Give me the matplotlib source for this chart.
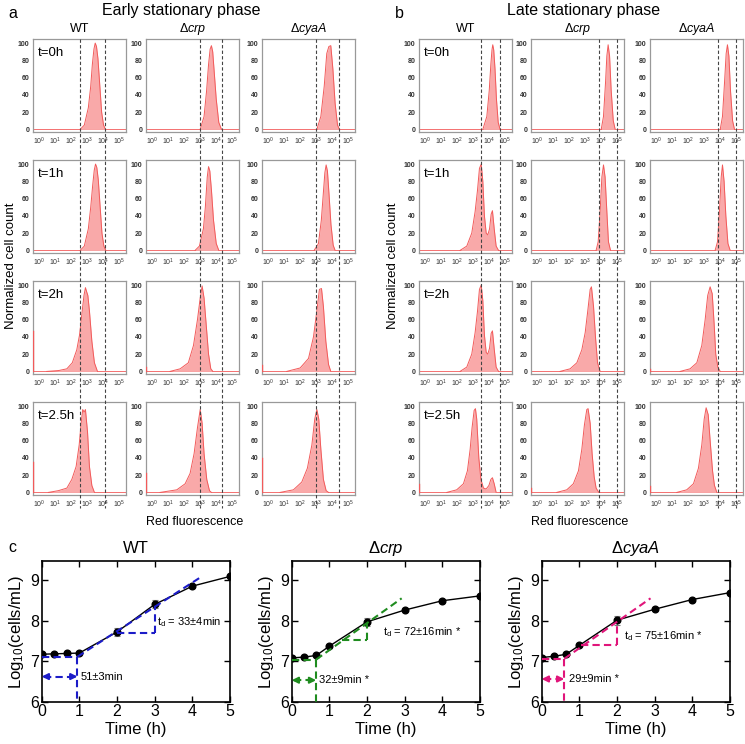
import matplotlib
matplotlib.use('Agg')
import matplotlib.pyplot as plt
from matplotlib.lines import Line2D
from matplotlib.transforms import blended_transform_factory

plt.rcParams['font.family'] = ['Liberation Sans', 'DejaVu Sans']
plt.rcParams['mathtext.fontset'] = 'custom'
plt.rcParams['mathtext.rm'] = 'Liberation Sans'
plt.rcParams['mathtext.it'] = 'Liberation Sans:italic'
plt.rcParams['mathtext.bf'] = 'Liberation Sans:bold'

# ---------------- data: histograms (x = log10 red fluorescence, y = normalized count) ----
TIMES = ['t=0h', 't=1h', 't=2h', 't=2.5h']
STRAINS = ['WT', r'$\Delta\mathit{crp}$', r'$\Delta\mathit{cyaA}$']

A_WT_X = [[2.54, 2.8, 3.05, 3.2, 3.3, 3.4, 3.48, 3.56, 3.65, 3.75, 3.88, 4.0, 4.12],
          [2.54, 2.8, 3.05, 3.2, 3.32, 3.42, 3.5, 3.58, 3.67, 3.77, 3.9, 4.02, 4.14],
          [0.46, 1.2, 1.71, 2.05, 2.33, 2.5, 2.58, 2.68, 2.78, 2.87, 2.95, 3.02, 3.12, 3.27, 3.43, 3.62],
          [0.56, 1.18, 1.71, 2.02, 2.29, 2.48, 2.6, 2.7, 2.79, 2.87, 3.0, 3.12, 3.27, 3.43]]
A_WT_Y = [[0, 5, 25, 50, 75, 93, 100, 96, 82, 55, 20, 5, 0],
          [0, 5, 25, 50, 75, 93, 100, 96, 82, 55, 20, 5, 0],
          [0, 1, 3, 10, 25, 42, 55, 72, 88, 97, 92, 88, 70, 35, 10, 0],
          [0, 2, 5, 15, 30, 55, 80, 96, 93, 96, 70, 30, 8, 0]]
A_CRP_X = [[2.98, 3.22, 3.38, 3.5, 3.6, 3.68, 3.76, 3.86, 3.98, 4.14, 4.31],
           [2.66, 2.93, 3.18, 3.3, 3.42, 3.5, 3.58, 3.68, 3.81, 3.98, 4.14],
           [1.1, 1.73, 2.24, 2.56, 2.81, 2.98, 3.1, 3.22, 3.35, 3.5, 3.64, 3.77],
           [0.48, 1.52, 2.04, 2.35, 2.6, 2.81, 2.98, 3.1, 3.22, 3.39, 3.56, 3.68]]
A_CRP_Y = [[0, 15, 45, 75, 93, 97, 90, 65, 35, 8, 0],
           [0, 5, 25, 50, 85, 97, 92, 70, 35, 8, 0],
           [0, 3, 10, 30, 60, 85, 99, 85, 55, 20, 3, 0],
           [0, 3, 10, 22, 45, 75, 96, 80, 45, 15, 2, 0]]
A_CYA_X = [[3.02, 3.27, 3.48, 3.64, 3.77, 3.89, 4.02, 4.16, 4.31, 4.43],
           [2.85, 3.12, 3.3, 3.42, 3.52, 3.6, 3.68, 3.78, 3.9, 4.04, 4.16],
           [1.14, 1.98, 2.5, 2.81, 3.02, 3.18, 3.31, 3.43, 3.58, 3.75, 3.89],
           [0.73, 1.56, 2.08, 2.43, 2.71, 2.89, 3.02, 3.14, 3.27, 3.43, 3.6, 3.75]]
A_CYA_Y = [[0, 15, 50, 88, 96, 97, 70, 30, 5, 0],
           [0, 8, 35, 65, 90, 99, 92, 65, 30, 6, 0],
           [0, 4, 15, 40, 70, 95, 96, 75, 35, 8, 0],
           [0, 3, 12, 28, 55, 85, 96, 85, 50, 15, 2, 0]]

B_WT_X = [[3.58, 3.83, 3.98, 4.08, 4.15, 4.2, 4.26, 4.34, 4.43, 4.54, 4.66],
          [2.16, 2.58, 2.89, 3.1, 3.25, 3.37, 3.48, 3.58, 3.68, 3.79, 3.89, 4.0, 4.1, 4.18, 4.29, 4.41, 4.56],
          [2.16, 2.58, 2.89, 3.1, 3.25, 3.37, 3.48, 3.58, 3.68, 3.79, 3.89, 4.0, 4.1, 4.18, 4.29, 4.41, 4.56],
          [1.33, 1.95, 2.37, 2.62, 2.79, 2.91, 3.04, 3.12, 3.2, 3.33, 3.46, 3.62, 3.79, 3.96, 4.08, 4.18, 4.29, 4.41]]
B_WT_Y = [[0, 15, 45, 75, 92, 98, 92, 70, 35, 8, 0],
          [0, 5, 20, 45, 70, 95, 100, 80, 40, 20, 18, 25, 42, 46, 25, 5, 0],
          [0, 5, 20, 45, 70, 95, 100, 82, 42, 22, 20, 27, 44, 47, 26, 5, 0],
          [0, 3, 10, 25, 50, 75, 95, 97, 85, 40, 15, 5, 4, 8, 15, 17, 10, 0]]
B_CRP_X = [[3.98, 4.12, 4.25, 4.33, 4.41, 4.5, 4.6, 4.73, 4.85],
           [3.66, 3.79, 3.91, 4.02, 4.12, 4.22, 4.33, 4.43, 4.56],
           [1.41, 2.04, 2.46, 2.77, 2.98, 3.14, 3.29, 3.37, 3.5, 3.62, 3.75, 3.91],
           [1.2, 1.83, 2.24, 2.56, 2.77, 2.93, 3.08, 3.16, 3.29, 3.41, 3.54, 3.66, 3.83]]
B_CRP_Y = [[0, 15, 55, 85, 98, 85, 45, 10, 0],
           [0, 10, 45, 85, 99, 85, 45, 10, 0],
           [0, 3, 10, 25, 45, 70, 95, 98, 75, 40, 10, 0],
           [0, 3, 10, 25, 50, 78, 96, 97, 80, 45, 18, 5, 0]]
B_CYA_X = [[3.98, 4.12, 4.25, 4.35, 4.43, 4.52, 4.62, 4.75, 4.87],
           [3.66, 3.81, 3.93, 4.04, 4.12, 4.22, 4.33, 4.46, 4.6],
           [1.48, 2.1, 2.52, 2.83, 3.04, 3.2, 3.35, 3.48, 3.6, 3.7, 3.83, 3.98],
           [1.27, 1.89, 2.31, 2.62, 2.83, 2.98, 3.1, 3.23, 3.35, 3.5, 3.62, 3.77]]
B_CYA_Y = [[0, 15, 55, 88, 98, 85, 45, 10, 0],
           [0, 10, 45, 85, 99, 80, 40, 8, 0],
           [0, 3, 10, 30, 60, 88, 98, 90, 55, 20, 5, 0],
           [0, 3, 10, 28, 55, 85, 98, 90, 60, 25, 8, 0]]

# counts piled at the lower edge of the axis
A_EDGE = [[0, 0, 47, 35], [0, 0, 5, 22], [0, 0, 8, 40]]
B_EDGE = [[0, 0, 0, 10], [0, 0, 0, 5], [0, 0, 3, 7]]
# gate positions (log10)
A_GATES = [(2.54, 4.1), (2.98, 4.35), (2.98, 4.4)]
B_GATES = [(3.46, 4.66), (3.83, 4.95), (3.83, 4.95)]

# ---------------- data: growth curves ----------------
TIME_WT = [0, 0.33, 0.67, 1, 2, 3, 4, 5]
LOG_WT = [7.17, 7.18, 7.19, 7.2, 7.72, 8.4, 8.85, 9.09]
ERR_WT = [0.02, 0.02, 0.02, 0.03, 0.1, 0.1, 0.04, 0.03]
TIME_CRP = [0, 0.33, 0.65, 1, 2, 3, 4, 5]
LOG_CRP = [7.08, 7.1, 7.14, 7.37, 7.97, 8.26, 8.49, 8.61]
ERR_CRP = [0.02, 0.02, 0.02, 0.03, 0.1, 0.03, 0.03, 0.03]
TIME_CYA = [0, 0.33, 0.65, 1, 2, 3, 4, 5]
LOG_CYA = [7.09, 7.12, 7.17, 7.39, 8.01, 8.28, 8.52, 8.69]
ERR_CYA = [0.02, 0.02, 0.02, 0.03, 0.11, 0.03, 0.03, 0.03]

# lag end (x, y), tangent end (x, y), doubling triangle (x0, x1, y0, y1), arrow y
LAG = [(0.95, 7.11), (0.65, 7.04), (0.6, 7.06)]
TANGENT_END = [(4.27, 9.1), (2.92, 8.55), (2.89, 8.55)]
TRIANGLE = [(2.0, 3.0, 7.7, 8.36), (1.33, 2.0, 7.52, 7.94), (1.05, 2.0, 7.39, 7.95)]
ARROW_Y = [6.62, 6.53, 6.56]
LAG_TEXT = ['51±3min', '32±9min *', '29±9min *']
LAG_TEXT_POS = [(1.03, 6.62), (0.72, 6.53), (0.73, 6.55)]
TD_TEXT = [r'$\mathrm{t_d}$ = 33±4min', r'$\mathrm{t_d}$ = 72±16min *', r'$\mathrm{t_d}$ = 75±16min *']
TD_TEXT_POS = [(3.07, 7.97), (2.43, 7.72), (2.19, 7.62)]
FIT_COLORS = ['#1c1cc8', '#1f8c1f', '#e0157a']

# ---------------- layout ----------------
W, H = 745, 744
fig = plt.figure(figsize=(W / 100, H / 100), dpi=100)


def box(l, t, w, h):
    return [l / W, 1 - (t + h) / H, w / W, h / H]


def ftext(x, y, s, **kw):
    fig.text(x / W, 1 - y / H, s, **kw)


ROW_TOPS = [39, 160, 281, 402]
ROW_H = 93
A_LEFTS = [33, 146, 262]
B_LEFTS = [419, 531, 650]
COL_W = 93
XMIN, XMAX = -0.4, 5.4
FILL = '#f9a9a9'
EDGE = '#f25a5a'


def hist_panel(lefts, XS, YS, EDGES, GATES):
    top_axes = []
    for c, l in enumerate(lefts):
        for r, t in enumerate(ROW_TOPS):
            ax = fig.add_axes(box(l, t, COL_W, ROW_H))
            xs, ys = XS[c][r], YS[c][r]
            ax.axhline(0, color=EDGE, lw=0.6, zorder=1)
            ax.fill_between(xs, ys, 0, color=FILL, lw=0, zorder=2)
            ax.plot(xs, ys, color=EDGE, lw=0.7, zorder=3)
            if EDGES[c][r] > 0:
                ax.plot([XMIN + 0.02, XMIN + 0.02], [0, EDGES[c][r]], color=EDGE, lw=1.0, zorder=3)
            ax.set_xlim(XMIN, XMAX)
            ax.set_ylim(-3, 104.7)
            ax.set_xticks(range(6))
            ax.set_xticklabels([r'$10^{%d}$' % k for k in range(6)])
            ax.set_yticks([0, 20, 40, 60, 80, 100])
            ax.tick_params(length=0, labelsize=5, labelcolor='#333333', pad=2.5)
            for lab in ax.get_yticklabels():
                lab.set_fontweight('bold')
            for sp in ax.spines.values():
                sp.set_color('#999999')
                sp.set_linewidth(0.9)
            if c == 0:
                ax.text(0.05, 0.85, TIMES[r], transform=ax.transAxes, fontsize=9.5,
                        va='center', ha='left')
            if r == 0:
                top_axes.append(ax)
                ax.set_title(STRAINS[c], fontsize=9, pad=5)
        # gate lines across the whole column
        tr = blended_transform_factory(top_axes[c].transData, fig.transFigure)
        for g in GATES[c]:
            fig.add_artist(Line2D([g, g], [1 - 39 / H, 1 - 508 / H], transform=tr,
                                  color='#444444', lw=0.8, ls=(0, (3, 2)), zorder=10))


hist_panel(A_LEFTS, [A_WT_X, A_CRP_X, A_CYA_X], [A_WT_Y, A_CRP_Y, A_CYA_Y], A_EDGE, A_GATES)
hist_panel(B_LEFTS, [B_WT_X, B_CRP_X, B_CYA_X], [B_WT_Y, B_CRP_Y, B_CYA_Y], B_EDGE, B_GATES)

ftext(8, 14, 'a', fontsize=11.5, va='center')
ftext(395, 14, 'b', fontsize=11.5, va='center')
ftext(8, 547, 'c', fontsize=11.5, va='center')
ftext(181, 10, 'Early stationary phase', fontsize=11.5, ha='center', va='center')
ftext(584, 10, 'Late stationary phase', fontsize=11.5, ha='center', va='center')
ftext(11, 266, 'Normalized cell count', fontsize=9.5, rotation=90, ha='center', va='center')
ftext(393, 266, 'Normalized cell count', fontsize=9.5, rotation=90, ha='center', va='center')
ftext(195, 522, 'Red fluorescence', fontsize=9, ha='center', va='center')
ftext(580, 522, 'Red fluorescence', fontsize=9, ha='center', va='center')

# ---------------- growth panels ----------------
C_LEFTS = [41.7, 291.7, 541.7]
C_TITLES = ['WT', r'$\Delta\mathit{crp}$', r'$\Delta\mathit{cyaA}$']
DATA = [(TIME_WT, LOG_WT, ERR_WT), (TIME_CRP, LOG_CRP, ERR_CRP), (TIME_CYA, LOG_CYA, ERR_CYA)]
for i, l in enumerate(C_LEFTS):
    ax = fig.add_axes(box(l, 561, 188.3, 140.7))
    t, v, e = DATA[i]
    col = FIT_COLORS[i]
    ax.errorbar(t, v, yerr=e, fmt='none', ecolor='#777777', elinewidth=0.8, capsize=2.5, capthick=0.8, zorder=2)
    ax.plot(t, v, '-o', color='black', ms=4.8, lw=1.0, zorder=3)
    lx, ly = LAG[i]
    tx, ty = TANGENT_END[i]
    x0, x1, y0, y1 = TRIANGLE[i]
    dash = (0, (3.5, 2))
    kw = dict(color=col, lw=1.5, ls=dash, zorder=4)
    ax.plot([0, lx], [ly, ly], **kw)
    ax.plot([lx, lx], [ly, 6.0], **kw)
    ax.plot([lx, tx], [ly, ty], **kw)
    ax.plot([x0, x1], [y0, y0], **kw)
    ax.plot([x1, x1], [y0, y1], **kw)
    ay = ARROW_Y[i]
    ax.plot([0.05, lx - 0.05], [ay, ay], **kw)
    for tip, tail in ((0.0, 0.2), (lx, lx - 0.2)):
        ax.annotate('', xy=(tip, ay), xytext=(tail, ay),
                    arrowprops=dict(arrowstyle='-|>', color=col, lw=1.5, mutation_scale=9,
                                    shrinkA=0, shrinkB=0), zorder=5)
    ax.text(*LAG_TEXT_POS[i], LAG_TEXT[i], fontsize=8, va='center', ha='left')
    ax.text(*TD_TEXT_POS[i], TD_TEXT[i], fontsize=8, va='center', ha='left')
    ax.set_xlim(0, 5)
    ax.set_ylim(6, 9.47)
    ax.set_xticks(range(6))
    ax.set_yticks([6, 7, 8, 9])
    ax.tick_params(direction='in', top=True, right=True, length=4, width=1, labelsize=11.5, pad=2)
    for sp in ax.spines.values():
        sp.set_linewidth(1.2)
    ax.set_xlabel('Time (h)', fontsize=12, labelpad=2)
    ax.set_ylabel(r'Log$_{10}$(cells/mL)', fontsize=12, labelpad=3)
    ax.set_title(C_TITLES[i], fontsize=12, pad=6)

fig.savefig('out.png', dpi=100)
